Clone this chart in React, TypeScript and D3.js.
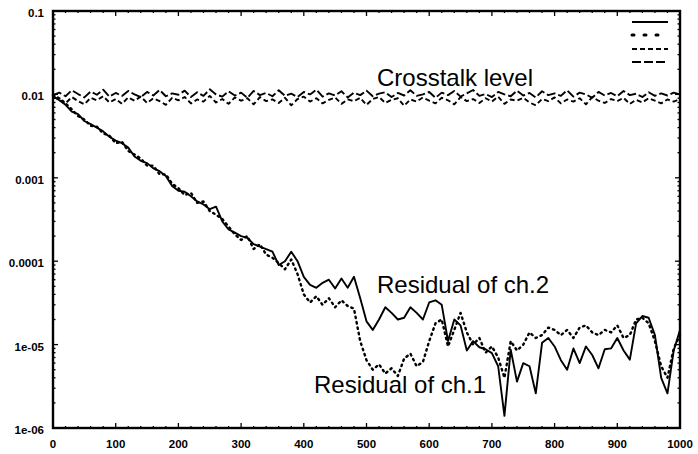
import React from 'react';
import * as d3 from 'd3';

// sample positions (every 10 units along x)
const xs = d3.range(0, 1001, 10);

const xTicks = [0, 100, 200, 300, 400, 500, 600, 700, 800, 900, 1000];
const yTicks = [1e-6, 1e-5, 1e-4, 1e-3, 1e-2, 1e-1];
const yTickLabels = ['1e-06', '1e-05', '0.0001', '0.001', '0.01', '0.1'];

// residual of ch.2 (solid)
const residual2 = [
  0.0095, 0.0085, 0.0075, 0.0062, 0.0058, 0.0048, 0.0044, 0.0040, 0.0036, 0.0031,
  0.0028, 0.0026, 0.0023, 0.0018, 0.0016, 0.0015, 0.0013, 0.0012, 0.00105, 0.0008,
  0.0007, 0.00068, 0.0006, 0.00052, 0.00048, 0.00042, 0.00045, 0.0003, 0.00024, 0.00022,
  0.0002, 0.00019, 0.00016, 0.00015, 0.00014, 0.00013, 0.00009, 0.0001, 0.00013, 0.0001,
  0.000065, 0.000052, 0.000048, 0.000055, 0.00006, 0.000047, 0.000062, 0.000048, 0.000065, 0.000036,
  0.000019, 0.000015, 0.00002, 0.000028, 0.000024, 0.00002, 0.000021, 0.000028, 0.000024, 0.00002,
  0.000032, 0.000034, 0.00003, 0.000011, 0.00002, 0.000017, 0.0000085, 0.000011, 0.0000093, 0.0000088,
  0.0000079, 0.0000055, 0.0000014, 0.0000087, 0.0000036, 0.000006, 0.0000055, 0.0000026, 0.0000105, 0.000012,
  0.0000095, 0.0000065, 0.000005, 0.000009, 0.000006, 0.0000095, 0.0000075, 0.0000052, 0.0000088, 0.000009,
  0.000012, 0.0000085, 0.0000066, 0.000018, 0.000022, 0.000021, 0.000013, 0.000004, 0.0000026, 0.0000085,
  0.000015
];

// residual of ch.1 (dotted)
const residual1 = [
  0.0098, 0.0090, 0.0078, 0.0066, 0.0055, 0.0050, 0.0042, 0.0041, 0.0034, 0.0032,
  0.0026, 0.0027, 0.0021, 0.0019, 0.0017, 0.0014, 0.0014, 0.0011, 0.0011, 0.00085,
  0.00075, 0.00062, 0.00066, 0.0005, 0.00052, 0.0004, 0.00036, 0.00032, 0.00026, 0.00021,
  0.00018, 0.0002, 0.00014, 0.00016, 0.00012, 0.00011, 0.000095, 0.00008, 0.000105, 0.00007,
  0.00004, 0.000032, 0.000038, 0.00003, 0.000036, 0.000028, 0.000034, 0.000029, 0.000027, 0.000011,
  0.0000065, 0.000005, 0.0000058, 0.0000045, 0.0000052, 0.0000042, 0.0000068, 0.0000078, 0.0000055, 0.0000062,
  0.000011, 0.000018, 0.00002, 0.0000095, 0.000015, 0.000024, 0.000014, 0.00001, 0.000012, 0.000008,
  0.0000095, 0.000007, 0.000004, 0.000011, 0.0000085, 0.00001, 0.000014, 0.000012, 0.000013, 0.000016,
  0.000015, 0.000013, 0.000015, 0.000012, 0.000016, 0.000017, 0.000014, 0.000013, 0.000015, 0.000014,
  0.000017, 0.000012, 0.000013, 0.00002, 0.000021, 0.000018, 0.000011, 0.0000055, 0.000004, 0.000009,
  0.000013
];

// crosstalk levels (short dash, long dash)
const crosstalk1 = [
  0.0095, 0.0086, 0.0078, 0.0093, 0.0083, 0.0076, 0.0091, 0.0085, 0.0095, 0.0080,
  0.0088, 0.0077, 0.0092, 0.0084, 0.0094, 0.0079, 0.0090, 0.0083, 0.0075, 0.0091,
  0.0085, 0.0093, 0.0078, 0.0087, 0.0082, 0.0096, 0.0080, 0.0088, 0.0077, 0.0092,
  0.0084, 0.0090, 0.0076, 0.0093, 0.0083, 0.0087, 0.0079, 0.0091, 0.0074, 0.0088,
  0.0094, 0.0082, 0.0090, 0.0078, 0.0086, 0.0092, 0.0077, 0.0087, 0.0083, 0.0091,
  0.0075, 0.0088, 0.0093, 0.0079, 0.0086, 0.0090, 0.0073, 0.0087, 0.0082, 0.0092,
  0.0084, 0.0078, 0.0091, 0.0085, 0.0076, 0.0093, 0.0083, 0.0088, 0.0079, 0.0090,
  0.0082, 0.0094, 0.0077, 0.0087, 0.0084, 0.0091, 0.0080, 0.0074, 0.0088, 0.0083,
  0.0092, 0.0078, 0.0087, 0.0082, 0.0090, 0.0076, 0.0093, 0.0084, 0.0079, 0.0088,
  0.0083, 0.0091, 0.0077, 0.0086, 0.0080, 0.0090, 0.0084, 0.0078, 0.0087, 0.0082,
  0.0088
];

const crosstalk2 = [
  0.0098, 0.0105, 0.0095, 0.0112, 0.0101, 0.0092, 0.0108, 0.0099, 0.0114, 0.0094,
  0.0104, 0.0096, 0.0110, 0.0100, 0.0093, 0.0107, 0.0097, 0.0113, 0.0095, 0.0103,
  0.0099, 0.0111, 0.0093, 0.0106, 0.0096, 0.0115, 0.0100, 0.0094, 0.0109, 0.0097,
  0.0105, 0.0091, 0.0110, 0.0098, 0.0104, 0.0095, 0.0112, 0.0096, 0.0102, 0.0093,
  0.0107, 0.0100, 0.0114, 0.0094, 0.0103, 0.0097, 0.0109, 0.0092, 0.0105, 0.0098,
  0.0111, 0.0095, 0.0102, 0.0106, 0.0093, 0.0104, 0.0097, 0.0112, 0.0096, 0.0100,
  0.0107, 0.0091, 0.0105, 0.0098, 0.0110, 0.0094, 0.0103, 0.0113, 0.0096, 0.0101,
  0.0093, 0.0107, 0.0100, 0.0095, 0.0111, 0.0097, 0.0104, 0.0092, 0.0109, 0.0098,
  0.0103, 0.0096, 0.0112, 0.0094, 0.0105, 0.0100, 0.0091, 0.0107, 0.0097, 0.0104,
  0.0095, 0.0110, 0.0098, 0.0102, 0.0093, 0.0106, 0.0096, 0.0103, 0.0097, 0.0105,
  0.0100
];

const width = 698;
const height = 454;
const margin = { top: 11, right: 18, bottom: 26, left: 53 };

const seriesList = [
  { values: residual2, dash: '', dotted: false },
  { values: residual1, dash: '1.5 4', dotted: true },
  { values: crosstalk1, dash: '5 3', dotted: false },
  { values: crosstalk2, dash: '9 3', dotted: false },
];

export default function App() {
  const x = d3.scaleLinear().domain([0, 1000]).range([margin.left, width - margin.right]);
  const y = d3.scaleLog().domain([1e-6, 0.1]).range([height - margin.bottom, margin.top]);

  const line = d3.line<number>()
    .x((d, i) => x(xs[i]))
    .y(d => y(d));

  const x0 = x(0), x1 = x(1000), y0 = y(1e-6), y1 = y(0.1);

  // minor log ticks
  const minorY: number[] = [];
  for (let e = -6; e < -1; e++) {
    for (let k = 2; k <= 9; k++) minorY.push(k * Math.pow(10, e));
  }
  const minorX = d3.range(20, 1000, 20).filter(v => v % 100 !== 0);

  const tickFont = { fontFamily: 'Liberation Sans, Arial, sans-serif', fontWeight: 700, fontSize: 11.5 };
  const labelFont = { fontFamily: 'Liberation Sans, Arial, sans-serif', fontSize: 24 };

  const legendY = [22, 35, 49, 62];

  return (
    <svg width={width} height={height} style={{ position: 'absolute', left: 0, top: 0, background: '#fff' }}>
      {/* data lines */}
      <g fill="none" stroke="#000" strokeLinejoin="round">
        {seriesList.map((s, i) => (
          <path key={i} d={line(s.values) || ''} strokeDasharray={s.dash || undefined}
            strokeLinecap={s.dotted ? 'round' : 'butt'} strokeWidth={s.dotted ? 2.4 : 1.9} />
        ))}
      </g>

      {/* frame */}
      <rect x={x0} y={y1} width={x1 - x0} height={y0 - y1} fill="none" stroke="#000" strokeWidth={2.4} />

      {/* ticks on all four sides */}
      <g stroke="#000" strokeWidth={1.3}>
        {yTicks.map(t => (
          <g key={'y' + t}>
            <line x1={x0} x2={x0 + 5} y1={y(t)} y2={y(t)} />
            <line x1={x1} x2={x1 - 5} y1={y(t)} y2={y(t)} />
          </g>
        ))}
        {minorY.map(t => (
          <g key={'ym' + t}>
            <line x1={x0} x2={x0 + 2.5} y1={y(t)} y2={y(t)} />
            <line x1={x1} x2={x1 - 2.5} y1={y(t)} y2={y(t)} />
          </g>
        ))}
        {xTicks.map(t => (
          <g key={'x' + t}>
            <line x1={x(t)} x2={x(t)} y1={y0} y2={y0 - 5} />
            <line x1={x(t)} x2={x(t)} y1={y1} y2={y1 + 5} />
          </g>
        ))}
        {minorX.map(t => (
          <g key={'xm' + t}>
            <line x1={x(t)} x2={x(t)} y1={y0} y2={y0 - 2} />
            <line x1={x(t)} x2={x(t)} y1={y1} y2={y1 + 2} />
          </g>
        ))}
      </g>

      {/* tick labels */}
      <g style={tickFont} fill="#000">
        {yTicks.map((t, i) => (
          <text key={'yl' + t} x={x0 - 9} y={y(t) + 6} textAnchor="end">{yTickLabels[i]}</text>
        ))}
        {xTicks.map(t => (
          <text key={'xl' + t} x={x(t)} y={y0 + 20} textAnchor="middle">{t}</text>
        ))}
      </g>

      {/* legend samples (no labels) */}
      <g fill="none" stroke="#000">
        {seriesList.map((s, i) => (
          <line key={'lg' + i} x1={632} x2={668} y1={legendY[i]} y2={legendY[i]}
            strokeDasharray={s.dotted ? '2 10' : (s.dash || undefined)}
            strokeLinecap={s.dotted ? 'round' : 'butt'}
            strokeWidth={s.dotted ? 3 : 2} />
        ))}
      </g>

      {/* annotations */}
      <g style={labelFont} fill="#000">
        <text x={377} y={86}>Crosstalk level</text>
        <text x={377} y={293}>Residual of ch.2</text>
        <text x={314} y={393}>Residual of ch.1</text>
      </g>
    </svg>
  );
}
